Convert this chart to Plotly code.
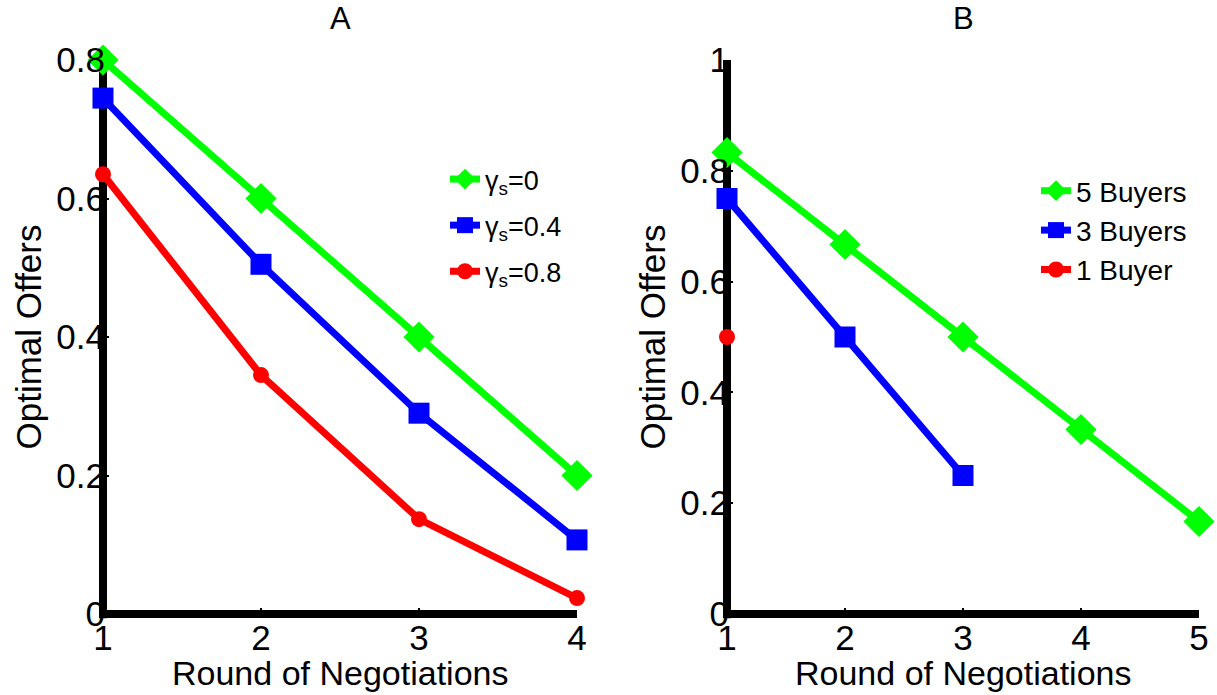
import plotly.graph_objects as go

# ---------------- data ----------------
rounds_a = [1, 2, 3, 4]
gamma0 = [0.80, 0.60, 0.40, 0.20]
gamma04 = [0.745, 0.505, 0.29, 0.107]
gamma08 = [0.635, 0.345, 0.137, 0.023]

rounds_b5 = [1, 2, 3, 4, 5]
buyers5 = [0.833, 0.667, 0.50, 0.333, 0.167]
rounds_b3 = [1, 2, 3]
buyers3 = [0.75, 0.50, 0.25]
rounds_b1 = [1]
buyers1 = [0.50]

ytick_a = [0, 0.2, 0.4, 0.6, 0.8]
ytext_a = ["0", "0.2", "0.4", "0.6", "0.8"]
ytick_b = [0, 0.2, 0.4, 0.6, 0.8, 1.0]
ytext_b = ["0", "0.2", "0.4", "0.6", "0.8", "1"]
xtick_a = [1, 2, 3, 4]
xtick_b = [1, 2, 3, 4, 5]

FONT = "Liberation Sans, Arial, Helvetica, sans-serif"
GREEN, BLUE, RED = "#00ff00", "#0000ff", "#ff0000"
LW = 7

fig = go.Figure()

def add(x, y, color, symbol, size, name, xa, ya, legend):
    fig.add_trace(go.Scatter(
        x=x, y=y, mode="lines+markers", name=name,
        line=dict(color=color, width=LW),
        marker=dict(color=color, symbol=symbol, size=size, line=dict(width=0)),
        xaxis=xa, yaxis=ya, legend=legend, cliponaxis=False,
        legendgroup=name,
    ))

add(rounds_a, gamma0, GREEN, "diamond", 24, "γ<sub>s</sub>=0", "x", "y", "legend")
add(rounds_a, gamma04, BLUE, "square", 21, "γ<sub>s</sub>=0.4", "x", "y", "legend")
add(rounds_a, gamma08, RED, "circle", 16, "γ<sub>s</sub>=0.8", "x", "y", "legend")

add(rounds_b5, buyers5, GREEN, "diamond", 24, "5 Buyers", "x2", "y2", "legend2")
add(rounds_b3, buyers3, BLUE, "square", 21, "3 Buyers", "x2", "y2", "legend2")
add(rounds_b1, buyers1, RED, "circle", 16, "1 Buyer", "x2", "y2", "legend2")

W, H = 1217, 695
ML, MR, MT, MB = 0, 0, 60, 81
dom_a = [103 / W, 577 / W]
dom_b = [727 / W, 1199 / W]

axis_common = dict(
    showline=False, zeroline=False, showgrid=False, automargin=False,
    ticks="inside", ticklen=6, tickwidth=2, tickcolor="black",
    tickfont=dict(family=FONT, size=35, color="black"),
)
ytitle = dict(text="Optimal Offers", font=dict(size=35), standoff=4)

fig.update_layout(
    width=W, height=H,
    margin=dict(l=ML, r=MR, t=MT, b=MB, autoexpand=False),
    paper_bgcolor="white", plot_bgcolor="white",
    font=dict(family=FONT, color="black"),
    xaxis=dict(domain=dom_a, range=[1, 4], tickvals=xtick_a,
               ticktext=[str(v) for v in xtick_a], anchor="y", **axis_common),
    yaxis=dict(domain=[0, 1], range=[0, 0.8], tickvals=ytick_a, ticktext=ytext_a,
               anchor="x", ticklabelstandoff=-3, title=ytitle, **axis_common),
    xaxis2=dict(domain=dom_b, range=[1, 5], tickvals=xtick_b,
                ticktext=[str(v) for v in xtick_b], anchor="y2", **axis_common),
    yaxis2=dict(domain=[0, 1], range=[0, 1.0], tickvals=ytick_b, ticktext=ytext_b,
                anchor="x2", ticklabelstandoff=-3, title=ytitle, **axis_common),
    legend=dict(x=445 / W, y=(614 - 155) / 554, xref="paper", yref="paper",
                xanchor="left", yanchor="top",
                font=dict(family=FONT, size=27, color="black"),
                bgcolor="rgba(0,0,0,0)", itemwidth=30, tracegroupgap=8),
    legend2=dict(x=1036 / W, y=(614 - 166) / 554, xref="paper", yref="paper",
                 xanchor="left", yanchor="top",
                 font=dict(family=FONT, size=28, color="black"),
                 bgcolor="rgba(0,0,0,0)", itemwidth=30, tracegroupgap=0),
    showlegend=True,
)

# thick black axis lines (MATLAB style), drawn under the data
for xr, yr in (("x domain", "y domain"), ("x2 domain", "y2 domain")):
    fig.add_shape(type="line", xref=xr, yref=yr, x0=0, x1=0, y0=-0.0075, y1=1.0,
                  line=dict(color="black", width=8), layer="below")
    fig.add_shape(type="line", xref=xr, yref=yr, x0=-0.008, x1=1.0, y0=0, y1=0,
                  line=dict(color="black", width=8), layer="below")

# panel titles and x-axis titles
for txt, xr in (("A", "x domain"), ("B", "x2 domain")):
    fig.add_annotation(text=txt, xref=xr, yref="paper", x=0.5, y=1,
                       xanchor="center", yanchor="bottom", yshift=22,
                       showarrow=False, font=dict(family=FONT, size=31, color="black"))
    fig.add_annotation(text="Round of Negotiations", xref=xr, yref="paper", x=0.5, y=0,
                       xanchor="center", yanchor="middle", yshift=-59,
                       showarrow=False, font=dict(family=FONT, size=34, color="black"))

fig.write_html("out.html")
